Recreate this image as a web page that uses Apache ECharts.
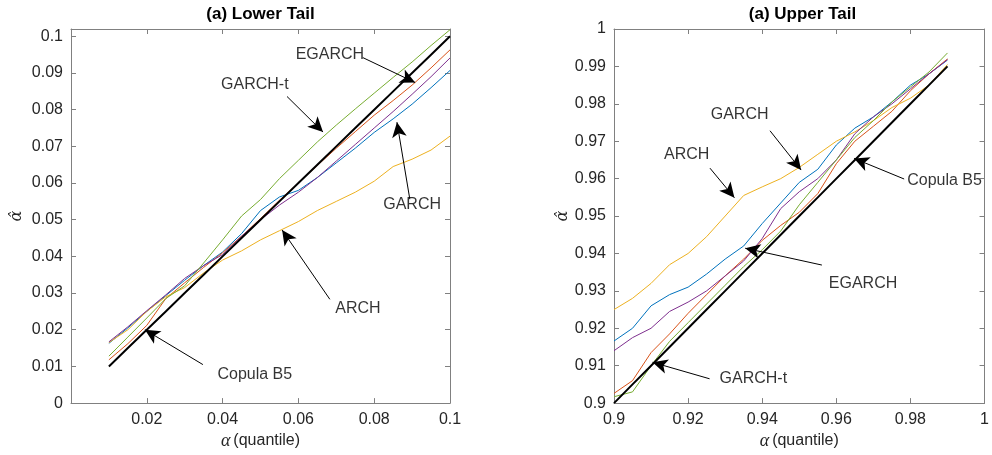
<!DOCTYPE html>
<html>
<head>
<meta charset="utf-8">
<script src="https://cdn.jsdelivr.net/npm/echarts@6/dist/echarts.min.js"></script>
<style>html,body{margin:0;padding:0;background:#fff}#c{width:992px;height:455px}</style>
</head>
<body>
<div id="c"></div>
<script>
// ---------- data ----------
const alphaLower = [0.010,0.015,0.020,0.025,0.030,0.035,0.040,0.045,0.050,0.055,0.060,0.065,0.070,0.075,0.080,0.085,0.090,0.095,0.100];
const lowerGARCH  = [0.0163,0.0205,0.0250,0.0293,0.0335,0.0375,0.0412,0.0462,0.0525,0.0562,0.0580,0.0615,0.0655,0.0695,0.0738,0.0775,0.0815,0.0860,0.0907];
const lowerEGARCH = [0.0118,0.0162,0.0212,0.0285,0.0328,0.0370,0.0410,0.0455,0.0503,0.0553,0.0600,0.0648,0.0695,0.0740,0.0785,0.0825,0.0867,0.0914,0.0963];
const lowerARCH   = [0.0165,0.0200,0.0250,0.0290,0.0315,0.0355,0.0390,0.0415,0.0445,0.0470,0.0495,0.0525,0.0550,0.0575,0.0605,0.0645,0.0665,0.0690,0.0728];
const lowerModel4 = [0.0167,0.0208,0.0252,0.0295,0.0340,0.0375,0.0405,0.0455,0.0500,0.0540,0.0575,0.0615,0.0660,0.0705,0.0750,0.0795,0.0842,0.0890,0.0941];
const lowerGARCHt = [0.0128,0.0180,0.0232,0.0285,0.0320,0.0382,0.0445,0.0510,0.0555,0.0612,0.0662,0.0712,0.0758,0.0802,0.0845,0.0888,0.0930,0.0975,0.1018];
const lowerCopula = [0.010,0.015,0.020,0.025,0.030,0.035,0.040,0.045,0.050,0.055,0.060,0.065,0.070,0.075,0.080,0.085,0.090,0.095,0.100];

const alphaUpper = [0.900,0.905,0.910,0.915,0.920,0.925,0.930,0.935,0.940,0.945,0.950,0.955,0.960,0.965,0.970,0.975,0.980,0.985,0.990];
const upperGARCH  = [0.9166,0.9200,0.9260,0.9290,0.9310,0.9345,0.9385,0.9420,0.9480,0.9535,0.9590,0.9625,0.9690,0.9735,0.9765,0.9805,0.9850,0.9880,0.9917];
const upperEGARCH = [0.9026,0.9060,0.9135,0.9185,0.9240,0.9290,0.9340,0.9385,0.9435,0.9475,0.9510,0.9560,0.9640,0.9700,0.9740,0.9780,0.9835,0.9880,0.9920];
const upperARCH   = [0.9250,0.9280,0.9320,0.9370,0.9400,0.9445,0.9500,0.9555,0.9578,0.9600,0.9630,0.9665,0.9700,0.9725,0.9755,0.9790,0.9815,0.9850,0.9905];
const upperModel4 = [0.9140,0.9175,0.9200,0.9245,0.9270,0.9300,0.9340,0.9380,0.9440,0.9520,0.9565,0.9600,0.9650,0.9720,0.9765,0.9800,0.9840,0.9880,0.9918];
const upperGARCHt = [0.9017,0.9030,0.9100,0.9165,0.9215,0.9265,0.9315,0.9365,0.9410,0.9460,0.9530,0.9590,0.9650,0.9710,0.9755,0.9805,0.9845,0.9885,0.9936];
const upperCopula = [0.900,0.905,0.910,0.915,0.920,0.925,0.930,0.935,0.940,0.945,0.950,0.955,0.960,0.965,0.970,0.975,0.980,0.985,0.990];

const titles = ['(a) Lower Tail', '(a) Upper Tail'];

// annotations: [label, labelX, labelY, arrowStartX, arrowStartY, arrowTipX, arrowTipY]
const notesLower = [
  ['EGARCH',    0.0683, 0.0950, 0.0770, 0.0942, 0.0908, 0.0874],
  ['GARCH-t',   0.0485, 0.0869, 0.0570, 0.0836, 0.0665, 0.0739],
  ['GARCH',     0.0900, 0.0540, 0.0894, 0.0556, 0.0860, 0.0766],
  ['ARCH',      0.0757, 0.0259, 0.0683, 0.0283, 0.0557, 0.0472],
  ['Copula B5', 0.0485, 0.0078, 0.0348, 0.0105, 0.0195, 0.0200]
];
const notesUpper = [
  ['GARCH',     0.9339, 0.9770, 0.9421, 0.9728, 0.9505, 0.9623],
  ['ARCH',      0.9196, 0.9665, 0.9259, 0.9628, 0.9325, 0.9549],
  ['Copula B5', 0.9892, 0.9596, 0.9783, 0.9599, 0.9648, 0.9654],
  ['EGARCH',    0.9672, 0.9319, 0.9561, 0.9369, 0.9354, 0.9414],
  ['GARCH-t',   0.9376, 0.9066, 0.9258, 0.9065, 0.9104, 0.9109]
];

// ---------- chart ----------
const colors = {GARCH:'#0072BD', EGARCH:'#D95319', ARCH:'#EDB120', M4:'#7E2F8E', GARCHt:'#77AC30', COP:'#000000'};
const AX = '#808080', TXT = '#262626', FONT = 'Liberation Sans';

function pairs(xs, ys){ return xs.map((x,i)=>[x, ys[i]]); }
function fmt(step){ return v => (Math.abs(v/step - Math.round(v/step)) < 1e-6) ? String(+v.toFixed(2)) : ''; }

function lineSeries(name, xs, ys, color, idx, w){
  return {type:'line', name, xAxisIndex:idx, yAxisIndex:idx, data:pairs(xs,ys), showSymbol:false,
    lineStyle:{color, width:w||1}, itemStyle:{color}, z:w?3:2};
}
function noteSeries(notes, idx){
  return [{
    type:'scatter', xAxisIndex:idx, yAxisIndex:idx, symbolSize:0, z:10,
    data: notes.map(n=>[n[1], n[2], n[0]]),
    label:{show:true, position:'inside', formatter:p=>p.data[2], fontSize:16, color:'#000', fontFamily:FONT},
    markLine:{silent:true, symbol:['none','arrow'], symbolSize:[11,15], animation:false,
      lineStyle:{color:'#000', width:1, type:'solid'}, label:{show:false}, emphasis:{disabled:true},
      data: notes.map(n=>[{coord:[n[3],n[4]]},{coord:[n[5],n[6]]}])}
  }];
}
function xAx(idx, min, max, interval, bottom, hideZero){
  return {type:'value', gridIndex:idx, min, max, interval, position: bottom?'bottom':'top',
    axisLine:{show:true, onZero:false, lineStyle:{color:AX, width:1}},
    axisTick:{show:true, inside:true, length:5, lineStyle:{color:AX}},
    splitLine:{show:false},
    axisLabel:{show:bottom, color:TXT, fontSize:16, fontFamily:FONT, margin:8,
      formatter: v => (hideZero && v===0) ? '' : fmt(interval)(v)},
    name: bottom ? '{a|α}(quantile)' : '', nameLocation:'middle', nameGap:23,
    nameTextStyle:{color:TXT, fontSize:16, fontFamily:FONT, rich:{a:{fontFamily:'Liberation Serif', fontStyle:'italic', fontSize:18, color:TXT, padding:[0,3,0,0]}}}
  };
}
function yAx(idx, min, max, interval, left, gap){
  return {type:'value', gridIndex:idx, min, max, interval, position: left?'left':'right',
    axisLine:{show:true, onZero:false, lineStyle:{color:AX, width:1}},
    axisTick:{show:true, inside:true, length:5, lineStyle:{color:AX}},
    splitLine:{show:false},
    axisLabel:{show:left, color:TXT, fontSize:16, fontFamily:FONT, margin:8, formatter: fmt(interval)},
    name: left ? 'α\u0302' : '', nameLocation:'middle', nameGap:gap||46, nameRotate:90,
    nameTextStyle:{color:TXT, fontSize:16, fontFamily:'DejaVu Serif', fontStyle:'italic'}
  };
}

const chart = echarts.init(document.getElementById('c'), null, {renderer:'canvas'});
chart.setOption({
  animation:false,
  backgroundColor:'#fff',
  title:[
    {text:titles[0], left:260.5, top:6, textAlign:'center', padding:0, textStyle:{fontSize:17, fontWeight:'bold', color:'#000', fontFamily:FONT}},
    {text:titles[1], left:802.5, top:6, textAlign:'center', padding:0, textStyle:{fontSize:17, fontWeight:'bold', color:'#000', fontFamily:FONT}}
  ],
  grid:[
    {left:71, top:29, width:379, height:378},
    {left:614, top:29, width:377, height:379}
  ],
  xAxis:[
    xAx(0, 0, 0.1, 0.02, true, true),
    xAx(0, 0, 0.1, 0.02, false),
    xAx(1, 0.9, 1, 0.02, true, false),
    xAx(1, 0.9, 1, 0.02, false)
  ],
  yAxis:[
    yAx(0, 0, 0.102, 0.01, true, 46),
    yAx(0, 0, 0.102, 0.01, false),
    yAx(1, 0.9, 1, 0.01, true, 42),
    yAx(1, 0.9, 1, 0.01, false)
  ],
  series:[
    lineSeries('GARCH', alphaLower, lowerGARCH, colors.GARCH, 0),
    lineSeries('EGARCH', alphaLower, lowerEGARCH, colors.EGARCH, 0),
    lineSeries('ARCH', alphaLower, lowerARCH, colors.ARCH, 0),
    lineSeries('Model 4', alphaLower, lowerModel4, colors.M4, 0),
    lineSeries('GARCH-t', alphaLower, lowerGARCHt, colors.GARCHt, 0),
    lineSeries('Copula B5', alphaLower, lowerCopula, colors.COP, 0, 2),
    lineSeries('GARCH', alphaUpper, upperGARCH, colors.GARCH, 2),
    lineSeries('EGARCH', alphaUpper, upperEGARCH, colors.EGARCH, 2),
    lineSeries('ARCH', alphaUpper, upperARCH, colors.ARCH, 2),
    lineSeries('Model 4', alphaUpper, upperModel4, colors.M4, 2),
    lineSeries('GARCH-t', alphaUpper, upperGARCHt, colors.GARCHt, 2),
    lineSeries('Copula B5', alphaUpper, upperCopula, colors.COP, 2, 2),
    ...noteSeries(notesLower, 0),
    ...noteSeries(notesUpper, 2)
  ]
});
</script>
</body>
</html>
